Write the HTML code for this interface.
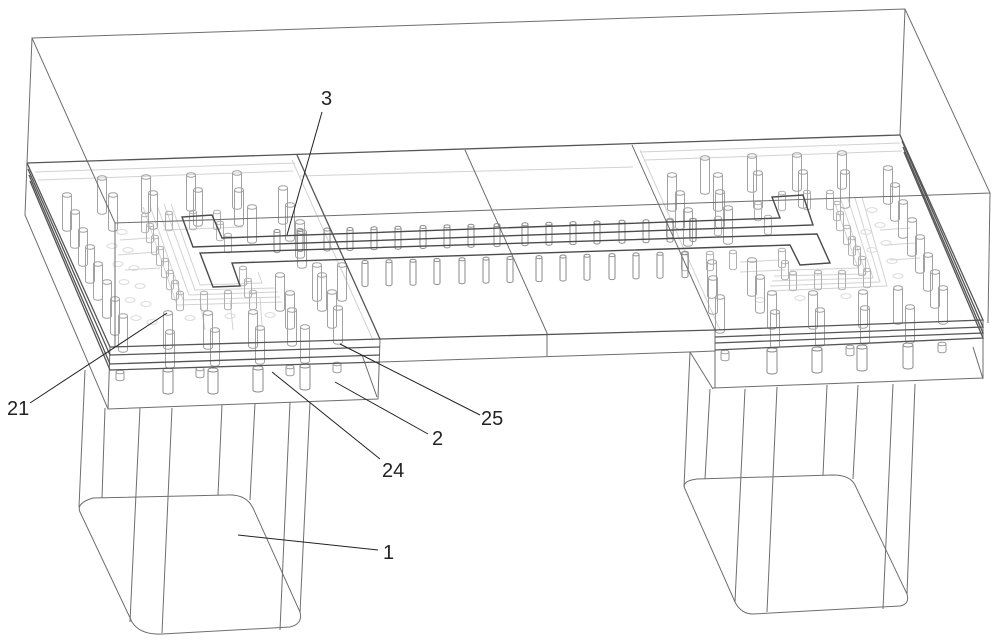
<!DOCTYPE html>
<html><head><meta charset="utf-8"><style>
html,body{margin:0;padding:0;background:#fff;}
svg{display:block;}
text{font-family:"Liberation Sans","DejaVu Sans",sans-serif;font-size:20px;fill:#222;}
</style></head><body>
<svg width="1000" height="644" viewBox="0 0 1000 644" xmlns="http://www.w3.org/2000/svg">
<defs>
<g id="T" fill="none" stroke="#a2a2a2" stroke-width="1"><ellipse cx="0" cy="0" rx="4.5" ry="2.3"/><path d="M-4.5 0V34A4.5 2.3 0 0 0 4.5 34V0"/></g>
<g id="S" fill="none" stroke="#b0b0b0" stroke-width="1"><ellipse cx="0" cy="0" rx="3.5" ry="1.8"/><path d="M-3.5 0V16A3.5 1.8 0 0 0 3.5 16V0"/></g>
<g id="M" fill="none" stroke="#8a8a8a" stroke-width="1"><ellipse cx="0" cy="0" rx="3" ry="1.5"/><path d="M-3 0V20A3 1.5 0 0 0 3 20V0"/></g>
<g id="L" fill="none" stroke="#8a8a8a" stroke-width="1"><ellipse cx="0" cy="0" rx="3" ry="1.5"/><path d="M-3 0V23A3 1.5 0 0 0 3 23V0"/></g>
<g id="U" fill="none" stroke="#8a8a8a" stroke-width="1"><ellipse cx="0" cy="0" rx="5" ry="2"/><path d="M-5 0V22A5 2 0 0 0 5 22V0"/></g>
<g id="V" fill="none" stroke="#9a9a9a" stroke-width="1"><ellipse cx="0" cy="0" rx="4" ry="1.8"/><path d="M-4 0V7A4 1.8 0 0 0 4 7V0"/></g>
<g id="G" fill="none" stroke="#dadada" stroke-width="1"><ellipse cx="0" cy="0" rx="5" ry="2.4"/></g>
</defs>

<!-- light routing traces -->
<g fill="none" stroke="#d2d2d2" stroke-width="1">
<path d="M143,207 L177,305 L282,302"/>
<path d="M150,206 L183,300 L280,297"/>
<path d="M157,205 L189,295 L278,292"/>
<path d="M164,204 L195,290 L276,288"/>
<path d="M171,204 L200,285 L262,283 L258,272"/>
<path d="M35,172 L295,163"/>
<path d="M38,180 L293,171"/>
<path d="M120,240 L150,238 M118,255 L156,252 M125,270 L160,268"/>
<path d="M200,300 L205,330 M230,300 L233,330 M260,298 L262,325"/>
<path d="M160,222 L240,219 M163,230 L243,227"/>
<path d="M855,198 L880,282 L770,286"/>
<path d="M848,199 L873,278 L772,281"/>
<path d="M841,200 L866,274 L774,276"/>
<path d="M862,197 L887,286 L768,291"/>
<path d="M834,201 L858,268 L790,270"/>
<path d="M640,152 L900,143"/>
<path d="M645,160 L902,151"/>
<path d="M880,230 L910,228 M885,245 L915,243 M890,260 L920,258"/>
<path d="M300,176 L633,167"/>
<path d="M292,160 L373,340"/>
<path d="M640,150 L720,330"/>
<path d="M740,262 L780,260 M740,272 L785,270"/>
</g>

<!-- ghost lower-layer ellipses -->
<g>
<use href="#G" x="122" y="232"/><use href="#G" x="128" y="250"/><use href="#G" x="134" y="268"/>
<use href="#G" x="140" y="286"/><use href="#G" x="146" y="304"/><use href="#G" x="112" y="246"/>
<use href="#G" x="118" y="264"/><use href="#G" x="124" y="282"/><use href="#G" x="130" y="300"/>
<use href="#G" x="136" y="318"/><use href="#G" x="152" y="322"/><use href="#G" x="190" y="318"/>
<use href="#G" x="230" y="316"/><use href="#G" x="270" y="315"/>
<use href="#G" x="880" y="225"/><use href="#G" x="886" y="243"/><use href="#G" x="892" y="261"/>
<use href="#G" x="898" y="276"/><use href="#G" x="872" y="210"/><use href="#G" x="846" y="296"/>
<use href="#G" x="800" y="298"/><use href="#G" x="760" y="300"/><use href="#G" x="866" y="232"/>
<use href="#G" x="872" y="250"/>
</g>

<!-- pad posts left -->
<g>
<use href="#T" x="67" y="195"/><use href="#T" x="102" y="178"/><use href="#T" x="113" y="195"/>
<use href="#T" x="146" y="177"/><use href="#T" x="153" y="193"/><use href="#T" x="191" y="175"/>
<use href="#T" x="198" y="190"/><use href="#T" x="237" y="173"/><use href="#T" x="239" y="190"/>
<use href="#T" x="283" y="188"/><use href="#T" x="252" y="207"/><use href="#T" x="290" y="205"/>
<use href="#T" x="75" y="212"/><use href="#T" x="83" y="230"/><use href="#T" x="90" y="247"/>
<use href="#T" x="98" y="264"/><use href="#T" x="107" y="282"/><use href="#T" x="115" y="299"/>
<use href="#T" x="123" y="316"/><use href="#T" x="168" y="313"/><use href="#T" x="170" y="332"/>
<use href="#T" x="208" y="313"/><use href="#T" x="215" y="330"/><use href="#T" x="253" y="312"/>
<use href="#T" x="260" y="328"/><use href="#T" x="292" y="310"/><use href="#T" x="305" y="327"/>
<use href="#T" x="338" y="308"/><use href="#T" x="332" y="292"/><use href="#T" x="290" y="293"/>
<use href="#T" x="322" y="275"/><use href="#T" x="342" y="265"/><use href="#T" x="280" y="275"/>
<use href="#T" x="317" y="265"/><use href="#T" x="300" y="222"/><use href="#T" x="302" y="232"/>
<use href="#S" x="145" y="215"/><use href="#S" x="169" y="213"/><use href="#S" x="193" y="212"/>
<use href="#S" x="217" y="212"/><use href="#S" x="150" y="225"/><use href="#S" x="155" y="237"/>
<use href="#S" x="160" y="248"/><use href="#S" x="165" y="260"/><use href="#S" x="170" y="272"/>
<use href="#S" x="175" y="282"/><use href="#S" x="180" y="293"/><use href="#S" x="204" y="293"/>
<use href="#S" x="228" y="292"/><use href="#S" x="253" y="292"/><use href="#S" x="243" y="268"/>
<use href="#S" x="248" y="280"/><use href="#S" x="220" y="223"/><use href="#S" x="228" y="235"/>
</g>

<!-- pad posts right -->
<g>
<use href="#T" x="705" y="158"/><use href="#T" x="752" y="156"/><use href="#T" x="797" y="155"/>
<use href="#T" x="842" y="153"/><use href="#T" x="888" y="168"/><use href="#T" x="672" y="175"/>
<use href="#T" x="718" y="175"/><use href="#T" x="758" y="173"/><use href="#T" x="803" y="172"/>
<use href="#T" x="845" y="172"/><use href="#T" x="895" y="185"/><use href="#T" x="680" y="193"/>
<use href="#T" x="720" y="192"/><use href="#T" x="688" y="210"/><use href="#T" x="728" y="208"/>
<use href="#T" x="903" y="202"/><use href="#T" x="912" y="220"/><use href="#T" x="920" y="237"/>
<use href="#T" x="928" y="255"/><use href="#T" x="935" y="272"/><use href="#T" x="943" y="288"/>
<use href="#T" x="898" y="288"/><use href="#T" x="910" y="307"/><use href="#T" x="863" y="292"/>
<use href="#T" x="865" y="308"/><use href="#T" x="813" y="293"/><use href="#T" x="820" y="310"/>
<use href="#T" x="772" y="293"/><use href="#T" x="775" y="312"/><use href="#T" x="713" y="278"/>
<use href="#T" x="720" y="297"/><use href="#T" x="712" y="262"/><use href="#T" x="752" y="260"/>
<use href="#T" x="760" y="277"/>
<use href="#S" x="758" y="203"/><use href="#S" x="782" y="193"/><use href="#S" x="807" y="192"/>
<use href="#S" x="830" y="192"/><use href="#S" x="837" y="203"/><use href="#S" x="840" y="213"/>
<use href="#S" x="847" y="227"/><use href="#S" x="852" y="238"/><use href="#S" x="857" y="248"/>
<use href="#S" x="862" y="258"/><use href="#S" x="867" y="270"/><use href="#S" x="842" y="272"/>
<use href="#S" x="818" y="272"/><use href="#S" x="793" y="273"/><use href="#S" x="785" y="262"/>
<use href="#S" x="782" y="250"/><use href="#S" x="768" y="217"/><use href="#S" x="718" y="218"/>
<use href="#S" x="693" y="220"/><use href="#S" x="670" y="220"/><use href="#S" x="685" y="253"/>
<use href="#S" x="710" y="253"/><use href="#S" x="733" y="252"/>
</g>

<!-- middle rows -->
<g>
<use href="#M" x="277" y="231"/><use href="#M" x="300" y="230"/><use href="#M" x="327" y="229.5"/>
<use href="#M" x="350" y="229"/><use href="#M" x="374" y="228.3"/><use href="#M" x="398" y="227.7"/>
<use href="#M" x="423" y="227"/><use href="#M" x="447" y="226.4"/><use href="#M" x="471" y="225.8"/>
<use href="#M" x="497" y="225.1"/><use href="#M" x="525" y="224.3"/><use href="#M" x="549" y="223.7"/>
<use href="#M" x="573" y="223.1"/><use href="#M" x="597" y="222.5"/><use href="#M" x="622" y="221.8"/>
<use href="#M" x="646" y="221.2"/><use href="#M" x="670" y="220.6"/><use href="#M" x="693" y="220"/>
<use href="#L" x="365" y="262"/><use href="#L" x="389" y="261.3"/><use href="#L" x="413" y="260.7"/>
<use href="#L" x="437" y="260"/><use href="#L" x="462" y="259.3"/><use href="#L" x="486" y="258.6"/>
<use href="#L" x="510" y="258"/><use href="#L" x="539" y="257.1"/><use href="#L" x="563" y="256.5"/>
<use href="#L" x="587" y="255.8"/><use href="#L" x="612" y="255.1"/><use href="#L" x="636" y="254.4"/>
<use href="#L" x="660" y="253.8"/><use href="#L" x="685" y="253.1"/>
</g>

<!-- under posts -->
<g>
<use href="#U" x="168" y="370"/><use href="#U" x="213" y="370"/><use href="#U" x="258" y="368"/><use href="#U" x="305" y="366"/>
<use href="#V" x="120" y="372"/><use href="#V" x="200" y="369"/><use href="#V" x="337" y="364"/><use href="#V" x="290" y="367"/>
<use href="#U" x="772" y="350"/><use href="#U" x="817" y="349"/><use href="#U" x="862" y="347"/><use href="#U" x="908" y="345"/>
<use href="#V" x="725" y="352"/><use href="#V" x="942" y="344"/><use href="#V" x="850" y="347"/>
</g>

<!-- main wireframe -->
<g fill="none" stroke="#6e6e6e" stroke-width="1">
<path d="M32,38 L905,9 L990,193 L115,223 Z"/>
<path d="M32,38 L27,163 L25,215 L108,409"/>
<path d="M905,9 L900,135"/>
<path d="M990,193 L988,323"/>
<path d="M115,223 L115,347"/>
<path d="M465,150 L547,333 L547,356"/>
<path d="M632,145 L715,330 L715,388"/>
<path d="M110,347 L108,409 L378,399 L380,339"/>
<path d="M713,388 L983,378 L983,320"/>
<path d="M690,352 L713,389"/>
<path d="M973,347 L983,379"/>
<path d="M362,355 L377,397"/>
<path d="M380,362 L690,352 L715,351"/>
</g>
<g fill="none" stroke="#555" stroke-width="1.3">
<path d="M27,163 L900,135"/>
<path d="M297,155 L380,339"/>
<path d="M27,163 L110,347 L380,339 L715,330 L983,320 L900,135"/>
<path d="M28,169 L110,355 L380,347"/>
<path d="M29,175 L110,364 L380,355"/>
<path d="M30,181 L110,370 L380,362"/>
<path d="M715,337 L983,327 L902,141"/>
<path d="M715,343 L983,333 L903,147"/>
<path d="M715,350 L983,338 L904,152"/>
</g>

<!-- pillars -->
<g fill="none" stroke="#6e6e6e" stroke-width="1">
<path d="M80,512 Q76,503 93,498 L227,495 Q246,494 253,508 L300,612 Q303,624 290,627 L162,634 Q140,635 132,622 Z"/>
<path d="M85,370 L79,507"/>
<path d="M105,408 L102,498"/>
<path d="M140,408 L130,622"/>
<path d="M172,408 L162,633"/>
<path d="M222,405 L218,495"/>
<path d="M255,403 L250,500"/>
<path d="M290,402 L280,630"/>
<path d="M310,402 L300,613"/>
<path d="M685,489 Q681,481 697,479 L833,475 Q850,475 855,485 L907,594 Q910,604 900,606 L753,614 Q741,614 735,602 Z"/>
<path d="M690,352 L684,487"/>
<path d="M710,389 L705,479"/>
<path d="M745,389 L735,602"/>
<path d="M777,387 L767,612"/>
<path d="M827,385 L823,475"/>
<path d="M858,385 L853,479"/>
<path d="M893,384 L883,609"/>
<path d="M915,384 L907,594"/>
</g>

<!-- transmission line 3 -->
<g fill="none" stroke="#4a4a4a" stroke-width="1.4">
<path d="M222,238 L212,215 L182,217 L193,247 L813,225 L803,195 L772,197 L780,218 Z"/>
<path d="M200,253 L213,287 L240,286 L232,263 L790,245 L800,265 L830,263 L817,234 Z"/>
</g>

<!-- leaders -->
<g fill="none" stroke="#222" stroke-width="1">
<path d="M322,112 L287,235"/>
<path d="M30,403 L167,313"/>
<path d="M340,344 L480,415"/>
<path d="M335,382 L428,434"/>
<path d="M272,372 L380,459"/>
<path d="M238,535 L378,550"/>
</g>
<text x="321" y="105">3</text>
<text x="7" y="415">21</text>
<text x="481" y="425">25</text>
<text x="432" y="445">2</text>
<text x="382" y="477">24</text>
<text x="383" y="559">1</text>
</svg>
</body></html>
